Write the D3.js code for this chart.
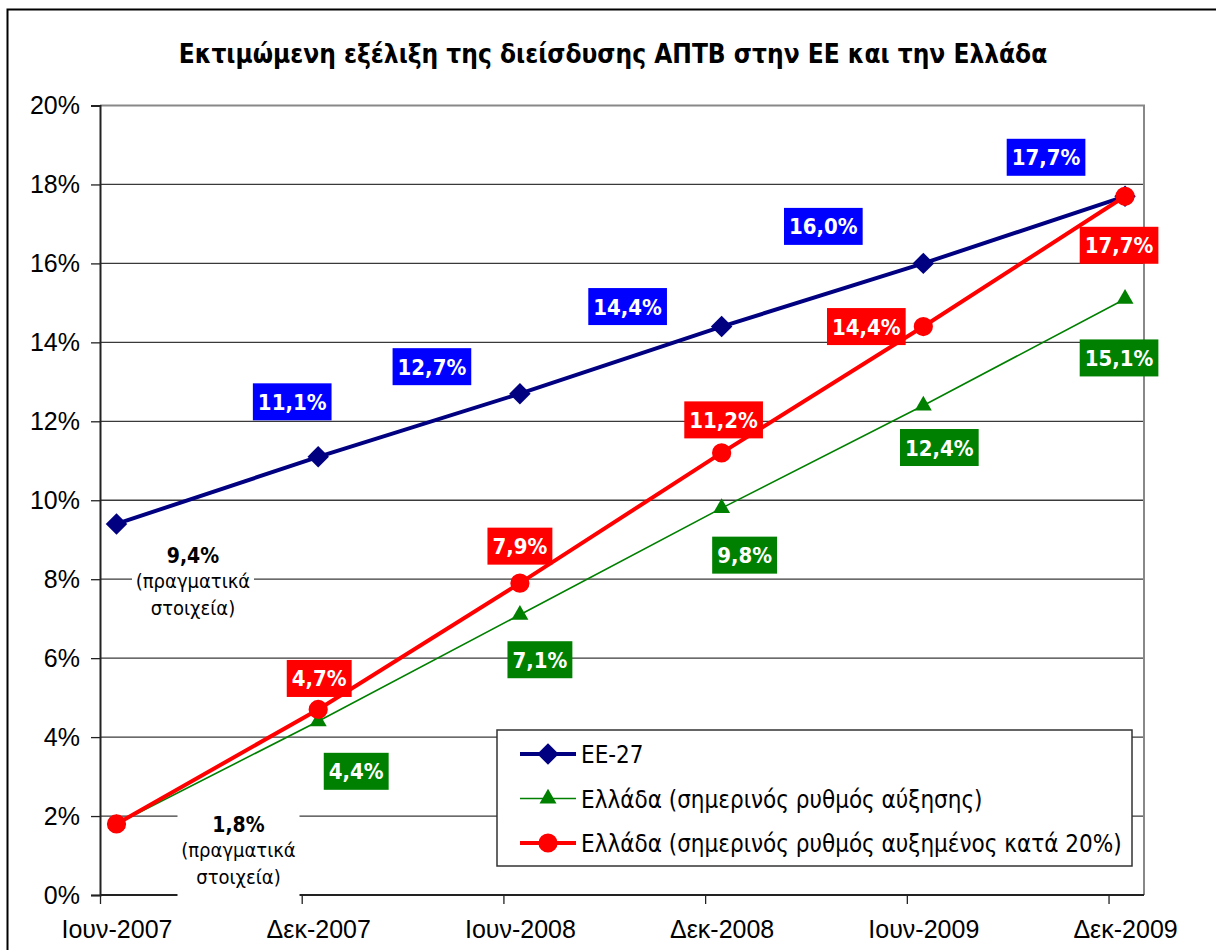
<!DOCTYPE html>
<html>
<head>
<meta charset="utf-8">
<script src="https://cdn.jsdelivr.net/npm/d3@7"></script>
<style>
  body { margin: 0; background: #fff; }
  svg { display: block; font-family: "DejaVu Sans Condensed", "DejaVu Sans", sans-serif; }
</style>
</head>
<body>
<svg id="chart" width="1216" height="950"></svg>
<script>
// categories (x axis) and the three series, in %
const periods = ['Ιουν-2007', 'Δεκ-2007', 'Ιουν-2008', 'Δεκ-2008', 'Ιουν-2009', 'Δεκ-2009'];
const eu27 = [9.4, 11.1, 12.7, 14.4, 16.0, 17.7];
const grCurrent = [1.8, 4.4, 7.1, 9.8, 12.4, 15.1];
const grPlus20 = [1.8, 4.7, 7.9, 11.2, 14.4, 17.7];
const yTicks = [0, 2, 4, 6, 8, 10, 12, 14, 16, 18, 20];

const title = 'Εκτιμώμενη εξέλιξη της διείσδυσης ΑΠΤΒ στην ΕΕ και την Ελλάδα';
const seriesNames = ['ΕΕ-27', 'Ελλάδα (σημερινός ρυθμός αύξησης)', 'Ελλάδα (σημερινός ρυθμός αυξημένος κατά 20%)'];

// where each data label box sits relative to its point (label layout only)
const euLabelOff = [null, [-26, -55], [-88, -27], [-94, -20], [-100, -37], [-79, -39]];
const grCurLabelOff = [null, [38, 50], [20, 45], [23, 47], [16, 42], [-6, 59]];
const grP20LabelOff = [null, [1, -31], [0, -37], [2, -33], [-57, 0], [-6, 49]];

const svg = d3.select('#chart');
const fmt = v => d3.format('.1f')(v).replace('.', ',') + '%';

// outer chart frame
svg.append('rect')
    .attr('x', 7.5).attr('y', 9.5).attr('width', 1240).attr('height', 980)
    .attr('fill', '#fff').attr('stroke', '#000').attr('stroke-width', 2);

svg.append('text')
    .attr('x', 613).attr('y', 63)
    .attr('text-anchor', 'middle')
    .attr('font-weight', 'bold').attr('font-size', 26)
    .text(title);

const pLeft = 100, pRight = 1144, pTop = 105.5, pBottom = 895;

// x positions are category indexes; the tick marks sit a bit left of each point
const x = d3.scaleLinear().domain([-0.0818, 5.094]).range([pLeft, pRight]);
const y = d3.scaleLinear().domain([0, 20]).range([pBottom, pTop]);

// gridlines
svg.append('g')
    .selectAll('line')
    .data(yTicks.filter(d => d > 0 && d < 20))
    .join('line')
    .attr('x1', pLeft).attr('x2', pRight)
    .attr('y1', d => y(d)).attr('y2', d => y(d))
    .attr('stroke', '#3a3a3a').attr('stroke-width', 1.3);

// plot border top/right (grey)
svg.append('path')
    .attr('d', `M${pLeft},${pTop}H${pRight}V${pBottom}`)
    .attr('fill', 'none').attr('stroke', '#888').attr('stroke-width', 2);

// y axis
const yAxis = svg.append('g')
    .attr('transform', `translate(${pLeft},0)`)
    .call(d3.axisLeft(y).tickValues(yTicks).tickSize(9).tickPadding(11).tickFormat(d => d + '%'));
yAxis.select('.domain').attr('stroke', '#222').attr('stroke-width', 2);
yAxis.selectAll('.tick line').attr('stroke', '#222').attr('stroke-width', 1.3);
yAxis.selectAll('text').attr('font-size', 25).attr('fill', '#000').attr('font-family', null);

// x axis line
svg.append('line')
    .attr('x1', pLeft).attr('x2', pRight).attr('y1', pBottom).attr('y2', pBottom)
    .attr('stroke', '#222').attr('stroke-width', 2);

// "actual data" notes (white boxes cover the grid)
const notes = [
    { i: 0, v: eu27[0], cx: 193, cy: 582 },
    { i: 0, v: grCurrent[0], cx: 238.5, cy: 851 }
];
notes.forEach(n => {
    const g = svg.append('g');
    g.append('rect')
        .attr('x', n.cx - 61).attr('y', n.cy - 45).attr('width', 122).attr('height', 92)
        .attr('fill', '#fff');
    g.append('text').attr('x', n.cx).attr('y', n.cy - 19)
        .attr('text-anchor', 'middle').attr('font-weight', 'bold').attr('font-size', 21)
        .text(fmt(n.v));
    g.append('text').attr('x', n.cx).attr('y', n.cy + 6)
        .attr('text-anchor', 'middle').attr('font-size', 20)
        .text('(πραγματικά');
    g.append('text').attr('x', n.cx).attr('y', n.cy + 33)
        .attr('text-anchor', 'middle').attr('font-size', 20)
        .text('στοιχεία)');
});

// x ticks and labels
const xTicks = svg.append('g')
    .attr('transform', `translate(0,${pBottom})`)
    .call(d3.axisBottom(x).tickValues(d3.range(6).map(i => i - 0.0818)).tickSize(9).tickFormat(''));
xTicks.select('.domain').remove();
xTicks.selectAll('.tick line').attr('stroke', '#222').attr('stroke-width', 1.3);

const xLabels = svg.append('g')
    .attr('transform', `translate(0,${pBottom})`)
    .call(d3.axisBottom(x).tickValues(d3.range(6)).tickSize(0).tickPadding(25).tickFormat(i => periods[i]));
xLabels.select('.domain').remove();
xLabels.selectAll('text').attr('font-size', 25).attr('fill', '#000').attr('font-family', null);

// legend box
const legend = svg.append('g');
legend.append('rect')
    .attr('x', 497).attr('y', 730).attr('width', 635).attr('height', 136)
    .attr('fill', '#fff').attr('stroke', '#333').attr('stroke-width', 1.5);

// series
const series = [
    { name: seriesNames[0], values: eu27, color: '#000080', width: 4, symbol: d3.symbolSquare, size: 230, rot: 45, box: '#0000ff', off: euLabelOff },
    { name: seriesNames[1], values: grCurrent, color: '#008000', width: 1.6, symbol: d3.symbolTriangle, size: 125, rot: 0, box: '#008000', off: grCurLabelOff },
    { name: seriesNames[2], values: grPlus20, color: '#ff0000', width: 4, symbol: d3.symbolCircle, size: 290, rot: 0, box: '#ff0000', off: grP20LabelOff }
];

const line = d3.line().x((d, i) => x(i)).y(d => y(d));

series.forEach(s => {
    svg.append('path')
        .datum(s.values)
        .attr('d', line)
        .attr('fill', 'none').attr('stroke', s.color).attr('stroke-width', s.width);
});

series.forEach(s => {
    svg.append('g')
        .selectAll('path')
        .data(s.values)
        .join('path')
        .attr('d', d3.symbol(s.symbol, s.size))
        .attr('transform', (d, i) => `translate(${x(i)},${y(d)}) rotate(${s.rot})`)
        .attr('fill', s.color);
});

// data label boxes
series.forEach(s => {
    s.values.forEach((v, i) => {
        if (!s.off[i]) return;
        const cx = x(i) + s.off[i][0], cy = y(v) + s.off[i][1];
        const g = svg.append('g');
        const t = g.append('text')
            .attr('x', cx).attr('y', cy + 8)
            .attr('text-anchor', 'middle')
            .attr('font-weight', 'bold').attr('font-size', 22)
            .attr('fill', '#fff')
            .text(fmt(v));
        const w = t.node().getComputedTextLength() + 10;
        g.insert('rect', 'text')
            .attr('x', cx - w / 2).attr('y', cy - 18.5)
            .attr('width', w).attr('height', 37)
            .attr('fill', s.box);
    });
});

// legend entries
series.forEach((s, k) => {
    const ly = 754 + k * 44.5;
    legend.append('line')
        .attr('x1', 520).attr('x2', 576).attr('y1', ly).attr('y2', ly)
        .attr('stroke', s.color).attr('stroke-width', s.width);
    legend.append('path')
        .attr('d', d3.symbol(s.symbol, s.size))
        .attr('transform', `translate(548,${ly}) rotate(${s.rot})`)
        .attr('fill', s.color);
    legend.append('text')
        .attr('x', 581).attr('y', ly + 9)
        .attr('font-size', 24)
        .text(s.name);
});
</script>
</body>
</html>
